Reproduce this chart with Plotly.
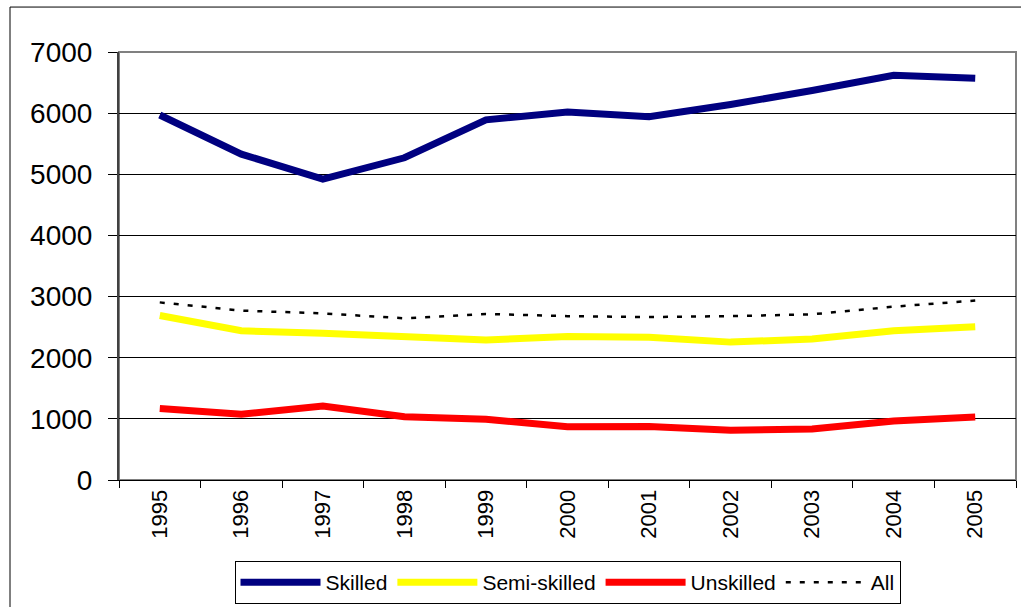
import plotly.graph_objects as go

years = ["1995", "1996", "1997", "1998", "1999", "2000", "2001", "2002", "2003", "2004", "2005"]
skilled = [5970, 5330, 4920, 5270, 5890, 6020, 5940, 6140, 6370, 6620, 6570]
semi_skilled = [2690, 2440, 2400, 2345, 2290, 2345, 2335, 2255, 2305, 2440, 2505]
unskilled = [1170, 1075, 1210, 1035, 995, 870, 875, 815, 835, 965, 1030]
all_workers = [2905, 2770, 2725, 2645, 2715, 2680, 2665, 2680, 2710, 2835, 2935]

FONT = "Arial, Liberation Sans, sans-serif"

fig = go.Figure()
fig.add_trace(go.Scatter(x=years, y=skilled, name="Skilled", mode="lines",
                         line=dict(color="#000080", width=7)))
fig.add_trace(go.Scatter(x=years, y=semi_skilled, name="Semi-skilled", mode="lines",
                         line=dict(color="#FFFF00", width=7)))
fig.add_trace(go.Scatter(x=years, y=unskilled, name="Unskilled", mode="lines",
                         line=dict(color="#FF0000", width=7)))
fig.add_trace(go.Scatter(x=years, y=all_workers, name="All", mode="lines",
                         line=dict(color="black", width=2.5, dash="5px,9px")))

fig.update_layout(
    width=1021, height=607,
    margin=dict(l=119, r=5, t=52, b=127, autoexpand=False),
    paper_bgcolor="white", plot_bgcolor="white",
    font=dict(family=FONT, color="black"),
    showlegend=True,
    legend=dict(orientation="h", x=0.5, xanchor="center",
                yref="container", y=(607 - 561) / 607, yanchor="top",
                bordercolor="black", borderwidth=1, bgcolor="white",
                font=dict(size=21, family=FONT), itemwidth=80,
                tracegroupgap=0),
    xaxis=dict(type="category", range=[-0.5, 10.5], tickangle=-90,
               tickfont=dict(size=22, family=FONT), showgrid=False,
               showline=True, linecolor="black", linewidth=1,
               ticks="outside", tickson="boundaries", ticklen=7, tickcolor="black",
               zeroline=False, fixedrange=True, automargin=False),
    yaxis=dict(range=[0, 7000], dtick=1000, tickfont=dict(size=28, family=FONT),
               showgrid=True, gridcolor="black", gridwidth=1,
               showline=True, linecolor="#404040", linewidth=2,
               ticks="outside", ticklen=9, tickcolor="black",
               zeroline=False, ticklabelstandoff=10, fixedrange=True, automargin=False),
    shapes=[
        dict(type="rect", xref="paper", yref="paper", x0=0, x1=1, y0=0, y1=1,
             line=dict(color="#808080", width=2), fillcolor="rgba(0,0,0,0)", layer="below"),
        dict(type="rect", xref="paper", yref="paper", x0=-0.1215, x1=1.02, y0=-0.33, y1=1.105,
             line=dict(color="black", width=1), fillcolor="rgba(0,0,0,0)", layer="below"),
    ],
)

fig.write_html("out.html", config={"displayModeBar": False},
               post_script="document.body.style.margin='0';document.body.style.padding='0';")
